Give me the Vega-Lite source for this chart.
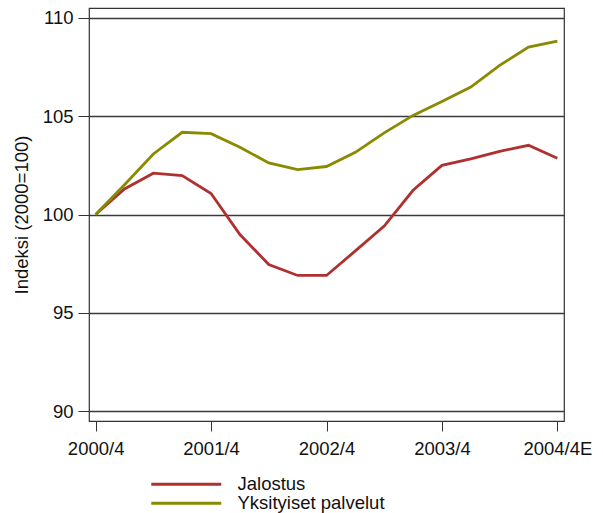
{
  "$schema": "https://vega.github.io/schema/vega-lite/v6.json",
  "autosize": "none",
  "width": 475,
  "height": 413,
  "padding": {"left": 89, "top": 8, "right": 39, "bottom": 92},
  "background": "white",
  "config": {
    "font": "Liberation Sans",
    "view": {"stroke": "#333333", "strokeWidth": 1.2},
    "axis": {"labelFont": "Liberation Sans", "titleFont": "Liberation Sans", "labelColor": "#111", "titleColor": "#111", "titleFontWeight": "normal"}
  },
  "data": {
    "values": [
      {"q": "2000/4", "sarja": "Jalostus", "v": 100},
      {"q": "2001/1", "sarja": "Jalostus", "v": 101.3},
      {"q": "2001/2", "sarja": "Jalostus", "v": 102.1},
      {"q": "2001/3", "sarja": "Jalostus", "v": 101.98},
      {"q": "2001/4", "sarja": "Jalostus", "v": 101.07},
      {"q": "2002/1", "sarja": "Jalostus", "v": 98.98},
      {"q": "2002/2", "sarja": "Jalostus", "v": 97.46},
      {"q": "2002/3", "sarja": "Jalostus", "v": 96.9},
      {"q": "2002/4", "sarja": "Jalostus", "v": 96.9},
      {"q": "2003/1", "sarja": "Jalostus", "v": 98.15},
      {"q": "2003/2", "sarja": "Jalostus", "v": 99.41},
      {"q": "2003/3", "sarja": "Jalostus", "v": 101.23},
      {"q": "2003/4", "sarja": "Jalostus", "v": 102.5},
      {"q": "2004/1", "sarja": "Jalostus", "v": 102.83},
      {"q": "2004/2", "sarja": "Jalostus", "v": 103.21},
      {"q": "2004/3", "sarja": "Jalostus", "v": 103.52},
      {"q": "2004/4E", "sarja": "Jalostus", "v": 102.86},
      {"q": "2000/4", "sarja": "Yksityiset palvelut", "v": 100},
      {"q": "2001/1", "sarja": "Yksityiset palvelut", "v": 101.51},
      {"q": "2001/2", "sarja": "Yksityiset palvelut", "v": 103.08},
      {"q": "2001/3", "sarja": "Yksityiset palvelut", "v": 104.18},
      {"q": "2001/4", "sarja": "Yksityiset palvelut", "v": 104.11},
      {"q": "2002/1", "sarja": "Yksityiset palvelut", "v": 103.42},
      {"q": "2002/2", "sarja": "Yksityiset palvelut", "v": 102.62},
      {"q": "2002/3", "sarja": "Yksityiset palvelut", "v": 102.28},
      {"q": "2002/4", "sarja": "Yksityiset palvelut", "v": 102.44},
      {"q": "2003/1", "sarja": "Yksityiset palvelut", "v": 103.16},
      {"q": "2003/2", "sarja": "Yksityiset palvelut", "v": 104.15},
      {"q": "2003/3", "sarja": "Yksityiset palvelut", "v": 105.04},
      {"q": "2003/4", "sarja": "Yksityiset palvelut", "v": 105.75},
      {"q": "2004/1", "sarja": "Yksityiset palvelut", "v": 106.48},
      {"q": "2004/2", "sarja": "Yksityiset palvelut", "v": 107.58},
      {"q": "2004/3", "sarja": "Yksityiset palvelut", "v": 108.51},
      {"q": "2004/4E", "sarja": "Yksityiset palvelut", "v": 108.82}
    ]
  },
  "mark": {"type": "line", "strokeWidth": 2.8, "strokeJoin": "miter"},
  "encoding": {
    "x": {
      "field": "q",
      "type": "ordinal",
      "sort": null,
      "scale": {"type": "point", "padding": 0.23},
      "axis": {
        "title": null,
        "values": ["2000/4", "2001/4", "2002/4", "2003/4", "2004/4E"],
        "labelAngle": 0,
        "labelFontSize": 18.5,
        "labelPadding": 8,
        "tickSize": 10,
        "tickColor": "#333",
        "domain": false,
        "grid": false
      }
    },
    "y": {
      "field": "v",
      "type": "quantitative",
      "scale": {"domain": [89.5, 110.5], "nice": false, "zero": false},
      "axis": {
        "title": "Indeksi (2000=100)",
        "titleFontSize": 18.5,
        "titlePadding": 11,
        "values": [90, 95, 100, 105, 110],
        "labelFontSize": 18.5,
        "labelPadding": 5,
        "tickSize": 11,
        "tickColor": "#333",
        "domain": false,
        "grid": true,
        "gridColor": "#3a3a3a",
        "gridWidth": 1.4
      }
    },
    "color": {
      "field": "sarja",
      "type": "nominal",
      "scale": {"domain": ["Jalostus", "Yksityiset palvelut"], "range": ["#b03030", "#8a8a00"]},
      "legend": {
        "title": null,
        "orient": "none",
        "legendX": 88,
        "legendY": 467,
        "padding": 0,
        "symbolType": "M-7,0H7",
        "symbolSize": 100,
        "symbolStrokeWidth": 3,
        "labelOffset": 42,
        "labelFontSize": 18.5,
        "labelColor": "#111",
        "labelFont": "Liberation Sans",
        "rowPadding": 0
      }
    }
  }
}
